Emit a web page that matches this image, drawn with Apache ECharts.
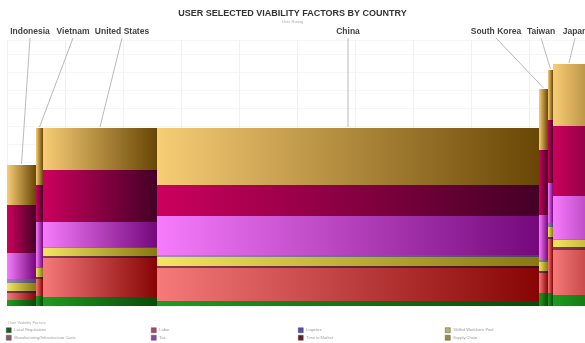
<!DOCTYPE html>
<html>
<head>
<meta charset="utf-8">
<script src="https://cdn.jsdelivr.net/npm/echarts/dist/echarts.min.js"></script>
<style>
  html, body { margin: 0; padding: 0; background: #ffffff; }
  #chart { width: 585px; height: 343px; }
</style>
</head>
<body>
<div id="chart"></div>
<script>
// Countries and column widths (share of respondents)
const countries = ['Indonesia', 'Vietnam', 'United States', 'China', 'South Korea', 'Taiwan', 'Japan'];
const widths = [29, 7, 114, 382, 9, 5, 80];

// Factor scores per country, listed bottom-to-top in the stack
const localRegulations = [3, 5, 4.5, 2.5, 6.5, 6.5, 5.5];
const manufacturingCosts = [3.5, 8.5, 19.5, 16.5, 10, 27, 22.5];
const timeToMarket = [1, 1, 1, 1, 1, 1, 1.5];
const skilledWorkforce = [4, 4.5, 4, 4.5, 4.5, 5, 3.5];
const logistics = [2, 0.5, 0.5, 1, 1, 2, 0.5];
const tax = [13, 22.5, 12.5, 19.5, 22.5, 20, 21.5];
const labor = [24, 18.5, 26, 15.5, 32.5, 31.5, 35];
const supplyChain = [20, 28.5, 21, 28.5, 30.5, 25, 31];

const factorNames = [
  'Local Regulations', 'Manufacturing/Infrastructure Costs', 'Labor', 'Tax',
  'Logistics', 'Time to Market', 'Skilled Workforce Pool', 'Supply Chain'
];

// ---- styling ----
const factorStyle = {
  'Local Regulations': { from: '#1e9c1e', to: '#0a4a0a', icon: '#1f5a1f' },
  'Manufacturing/Infrastructure Costs': { from: '#f67a7a', to: '#860404', icon: '#8a5a66' },
  'Labor': { from: '#cc005e', to: '#440026', icon: '#a04a70' },
  'Tax': { from: '#f67cfc', to: '#74087c', icon: '#8a4aa8' },
  'Logistics': { from: '#9a92b2', to: '#4a4262', icon: '#5050a8' },
  'Time to Market': { from: '#8a3a5a', to: '#3a0c1e', icon: '#6a1a2a' },
  'Skilled Workforce Pool': { from: '#f4e660', to: '#887810', icon: '#b8b858' },
  'Supply Chain': { from: '#f8cd76', to: '#684604', icon: '#9a8a3a' }
};
// horizontal centre (px) of each country caption above the columns
const captionX = [30, 73, 122, 348, 496, 541, 575];

// stacking order, bottom to top
const stack = [
  ['Local Regulations', localRegulations],
  ['Manufacturing/Infrastructure Costs', manufacturingCosts],
  ['Time to Market', timeToMarket],
  ['Skilled Workforce Pool', skilledWorkforce],
  ['Logistics', logistics],
  ['Tax', tax],
  ['Labor', labor],
  ['Supply Chain', supplyChain]
];

// column x extents
const xStart = [];
let acc = 0;
widths.forEach(w => { xStart.push(acc); acc += w; });

const base = countries.map(() => 0);
const segSeries = stack.map(([name, vals]) => {
  const data = countries.map((c, i) => {
    const item = [xStart[i], xStart[i] + widths[i], base[i], base[i] + vals[i], i];
    base[i] += vals[i];
    return item;
  });
  const st = factorStyle[name];
  return {
    type: 'custom',
    name: name,
    itemStyle: { color: st.icon },
    data: data,
    renderItem: function (params, api) {
      const p0 = api.coord([api.value(0), api.value(3)]);
      const p1 = api.coord([api.value(1), api.value(2)]);
      return {
        type: 'rect',
        shape: { x: p0[0], y: p0[1], width: p1[0] - p0[0], height: p1[1] - p0[1] },
        style: {
          fill: new echarts.graphic.LinearGradient(0, 0, 1, 0, [
            { offset: 0, color: st.from },
            { offset: 1, color: st.to }
          ])
        }
      };
    }
  };
});

const totals = base.slice();

// country captions with leader lines
const captionSeries = {
  type: 'custom',
  name: 'captions',
  silent: true,
  data: countries.map((c, i) => [xStart[i], xStart[i] + widths[i], totals[i], i]),
  renderItem: function (params, api) {
    const i = api.value(3);
    const top = api.coord([api.value(0), api.value(2)]);
    const right = api.coord([api.value(1), 0]);
    const visRight = Math.min(right[0], api.getWidth());
    const cx = (top[0] + visRight) / 2;
    const lx = captionX[i];
    return {
      type: 'group',
      children: [
        {
          type: 'line',
          shape: { x1: lx, y1: 38, x2: cx, y2: top[1] - 1 },
          style: { stroke: '#a8a8a8', lineWidth: 0.8 }
        },
        {
          type: 'text',
          style: {
            text: countries[i], x: lx, y: 32,
            align: 'center', verticalAlign: 'middle',
            font: 'bold 8.5px "Liberation Sans", Arial, sans-serif', fill: '#444444'
          }
        }
      ]
    };
  }
};

// legend: four columns of two entries
const legendCols = [
  ['Local Regulations', 'Manufacturing/Infrastructure Costs'],
  ['Labor', 'Tax'],
  ['Logistics', 'Time to Market'],
  ['Skilled Workforce Pool', 'Supply Chain']
];
const legendLeft = [6, 151, 298, 445];
const legends = legendCols.map((names, k) => ({
  data: names,
  orient: 'vertical',
  left: legendLeft[k],
  top: 327.5,
  itemGap: 2,
  itemWidth: 5,
  itemHeight: 5,
  icon: 'rect',
  selectedMode: false,
  padding: 0,
  textStyle: { fontSize: 4, color: '#9a9a9a', padding: [0, 0, 0, -2] },
  itemStyle: { borderColor: '#555', borderWidth: 0.5 }
}));

const chart = echarts.init(document.getElementById('chart'), null, { renderer: 'canvas' });
chart.setOption({
  animation: false,
  backgroundColor: '#ffffff',
  title: {
    text: 'USER SELECTED VIABILITY FACTORS BY COUNTRY',
    subtext: 'User Rating',
    left: 'center',
    top: 9,
    itemGap: 2,
    padding: 0,
    textStyle: { fontSize: 9, fontWeight: 'bold', color: '#333333', fontFamily: '"Liberation Sans", Arial, sans-serif' },
    subtextStyle: { fontSize: 4, color: '#aaaaaa' }
  },
  graphic: [{
    type: 'text', left: 8, top: 321,
    style: { text: 'User Viability Factors', font: '4px sans-serif', fill: '#aaaaaa' }
  }],
  legend: legends,
  grid: { left: 7, right: 0, top: 40, bottom: 37 },
  xAxis: {
    type: 'value', min: 0, max: 578, interval: 58,
    axisLine: { show: false }, axisTick: { show: false }, axisLabel: { show: false },
    splitLine: { show: true, lineStyle: { color: '#f1f1f1', width: 1 } }
  },
  yAxis: {
    type: 'value', min: 0, max: 133, interval: 9,
    axisLine: { show: false }, axisTick: { show: false }, axisLabel: { show: false },
    splitLine: { show: true, lineStyle: { color: '#f6f6f6', width: 1 } }
  },
  series: segSeries.concat([captionSeries])
});
</script>
</body>
</html>
